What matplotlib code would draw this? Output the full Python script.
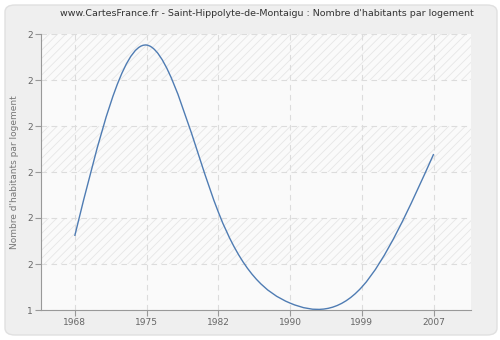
import numpy as np
import matplotlib.pyplot as plt
from matplotlib.path import Path
from matplotlib.patches import PathPatch, FancyBboxPatch

# census years (evenly spaced categories on the x axis)
years = ['1968', '1975', '1982', '1990', '1999', '2007']
# habitants per logement
values = [1.561, 1.976, 1.613, 1.415, 1.450, 1.739]
y_ticks = [1.4, 1.5, 1.6, 1.7, 1.8, 1.9, 2.0]
y_tick_labels = ['1', '2', '2', '2', '2', '2', '2']

title = "www.CartesFrance.fr - Saint-Hippolyte-de-Montaigu : Nombre d'habitants par logement"
ylabel = "Nombre d'habitants par logement"

plt.rcParams['hatch.linewidth'] = 0.6

fig = plt.figure(figsize=(5, 3.4), dpi=100, facecolor='white')

# rounded grey panel behind everything
panel = FancyBboxPatch((5 / 500, 5 / 340), 492 / 500, 330 / 340,
                       boxstyle='round,pad=0,rounding_size=0.02',
                       transform=fig.transFigure, facecolor='#efefef',
                       edgecolor='#e0e0e0', lw=1, zorder=-10)
fig.patches.append(panel)

ax = fig.add_axes([41 / 500, 30 / 340, 430 / 500, 276 / 340])
ax.set_zorder(1)
ax.set_facecolor('#fafafa')

# alternating hatched bands
for i in range(len(y_ticks) - 1):
    if i % 2 == 1:
        ax.axhspan(y_ticks[i], y_ticks[i + 1], facecolor='none',
                   edgecolor='#e6e6e6', hatch='////', lw=0, zorder=0)

# smooth curve through the points: natural cubic spline drawn as Bezier segments
x = np.arange(len(values), dtype=float)
y = np.array(values)
n = len(x)
A = np.zeros((n, n))
b = np.zeros(n)
A[0, 0], A[0, 1], b[0] = 2, 1, 3 * (y[1] - y[0])
A[-1, -2], A[-1, -1], b[-1] = 1, 2, 3 * (y[-1] - y[-2])
for i in range(1, n - 1):
    A[i, i - 1], A[i, i], A[i, i + 1] = 1, 4, 1
    b[i] = 3 * (y[i + 1] - y[i - 1])
slopes = np.linalg.solve(A, b)

verts = [(x[0], y[0])]
codes = [Path.MOVETO]
for i in range(n - 1):
    verts += [(x[i] + 1 / 3, y[i] + slopes[i] / 3),
              (x[i + 1] - 1 / 3, y[i + 1] - slopes[i + 1] / 3),
              (x[i + 1], y[i + 1])]
    codes += [Path.CURVE4] * 3
ax.add_patch(PathPatch(Path(verts, codes), facecolor='none',
                       edgecolor='#4f7cb3', lw=1.0, zorder=3))

ax.set_xlim(-0.47, 5.52)
ax.set_ylim(1.4, 2.0)
ax.set_xticks(x)
ax.set_xticklabels(years)
ax.set_yticks(y_ticks)
ax.set_yticklabels(y_tick_labels)

ax.grid(True, color='#dcdcdc', ls=(0, (5, 4)), lw=0.8)
ax.set_axisbelow(True)

for side in ['top', 'right']:
    ax.spines[side].set_visible(False)
for side in ['left', 'bottom']:
    ax.spines[side].set_color('#999999')
ax.tick_params(axis='both', colors='#999999', labelcolor='#666666',
               labelsize=6.5, length=4, width=0.8, pad=2)

ax.set_ylabel(ylabel, fontsize=6.5, color='#777777', labelpad=6)
fig.text(267 / 500, 1 - 14 / 340, title, ha='center', va='center',
         fontsize=6.8, color='#333333')

plt.savefig('out.png', dpi=100)
